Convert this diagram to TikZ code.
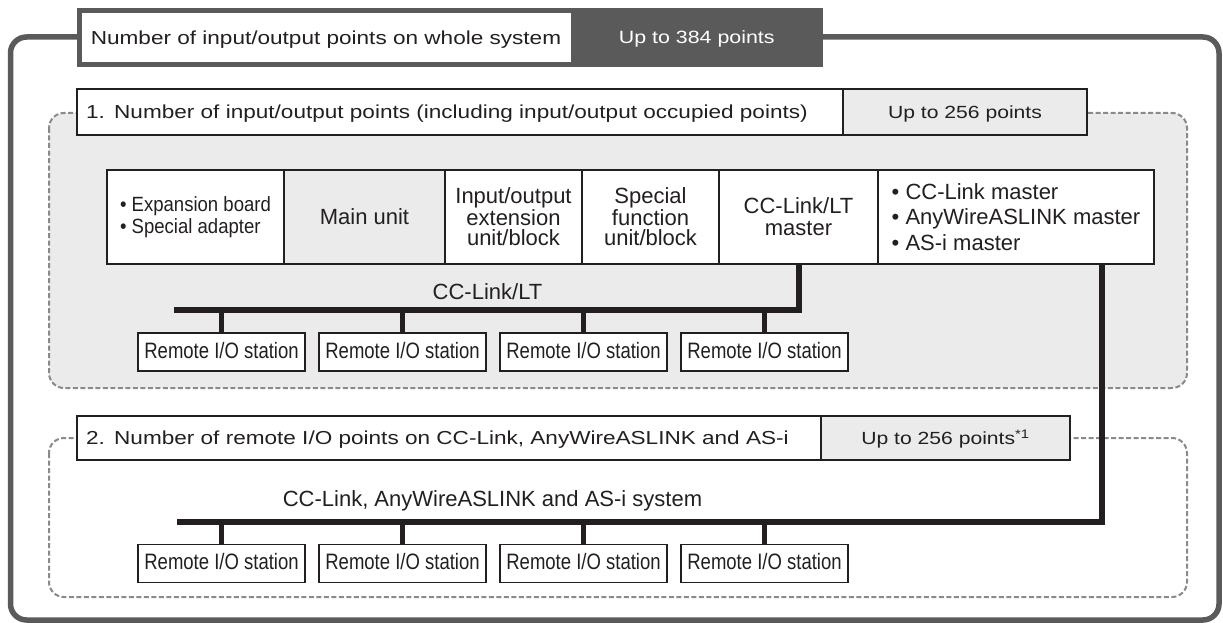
\documentclass[tikz,border=0pt]{standalone}
\usepackage{fontspec}
\setmainfont{Liberation Sans}
\newfontfamily\wideF[FakeStretch=1.2]{Liberation Sans}
\newfontfamily\expF[FakeStretch=0.9]{Liberation Sans}
\newfontfamily\remF[FakeStretch=0.83]{Liberation Sans}
\definecolor{dk}{HTML}{5A5A5A}
\definecolor{lg}{HTML}{EBEBEB}
\definecolor{dg}{HTML}{8A8A8A}
\definecolor{ink}{HTML}{231F20}
\begin{document}
\begin{tikzpicture}[x=1pt,y=-1pt,
  outerline/.style={draw=dk, line width=5.5pt, rounded corners=16pt},
  dashbox/.style={draw=dg, line width=2pt, dash pattern=on 5pt off 2.5pt, rounded corners=15pt},
  hdrbox/.style={draw=dk, line width=5pt, minimum height=54pt, inner sep=0pt},
  lblbox/.style={draw=ink, line width=1.5pt, inner ysep=0pt, text=ink,
     font=\wideF\fontsize{18.8}{22}\selectfont, text height=13.4pt, text depth=0pt},
  upbox/.style={lblbox, fill=lg, inner xsep=0pt, font=\wideF\fontsize{17.6}{20}\selectfont, text height=12.6pt},
  cell/.style={draw=ink, fill=white, line width=1.8pt, minimum height=94pt, inner sep=0pt,
     font=\fontsize{22}{21}\selectfont, align=center, text=ink},
  rem/.style={draw=ink, fill=white, line width=1.8pt, minimum width=167pt, minimum height=38pt,
     inner sep=0pt, font=\remF\fontsize{22.3}{24}\selectfont, text height=16pt, text depth=4pt, text=ink},
  bus/.style={draw=ink, line width=6pt},
  drop/.style={draw=ink, line width=5pt},
  buslabel/.style={font=\fontsize{22}{24}\selectfont, text=ink, anchor=base, inner sep=0pt}
]
\useasboundingbox (0,0) rectangle (1223,623);
% outer frame and dashed areas
\draw[outerline] (10.5,37) rectangle (1219,620);
\draw[dashbox, fill=lg] (49,113) rectangle (1187,388);
\draw[dashbox] (49,438) rectangle (1187,597);
% header
\node[hdrbox, fill=white, minimum width=494pt, text=ink,
      font=\wideF\fontsize{18.8}{22}\selectfont, text height=13.4pt, text depth=0pt]
      (hdrL) at (326,37.5) {Number of input/output points on whole system};
\node[hdrbox, fill=dk, minimum width=247.5pt, text=white,
      font=\wideF\fontsize{17.8}{20}\selectfont, text height=12.8pt, text depth=0pt]
      (hdrR) at (696.75,37.5) {Up to 384 points};
% label box 1
\node[lblbox, fill=white, minimum height=46pt, inner xsep=9pt, text width=748pt, align=left]
      (l1L) at (460,112) {1. Number of input/output points (including input/output occupied points)};
\node[upbox, minimum height=46pt, minimum width=244pt] (l1R) at (965,112) {Up to 256 points};
% label box 2
\node[lblbox, fill=white, minimum height=44pt, inner xsep=9pt, text width=726pt, align=left]
      (l2L) at (449,438) {2. Number of remote I/O points on CC-Link, AnyWireASLINK and AS-i};
\node[upbox, minimum height=44pt, minimum width=249pt] (l2R) at (945.5,438) {Up to 256 points\textsuperscript{*1}};
% unit row
\node[cell, minimum width=177pt, align=left, font=\expF\fontsize{20.6}{22.5}\selectfont]
      (ex) at (195.5,217) {• Expansion board\\• Special adapter};
\node[cell, minimum width=161pt, fill=lg] (mu) at (364.5,217) {Main unit};
\node[cell, minimum width=137pt, font=\fontsize{22}{20.5}\selectfont] (io) at (513.5,217) {Input/output\\extension\\unit/block};
\node[cell, minimum width=137pt, font=\fontsize{22}{20.5}\selectfont] (sf) at (650.5,217) {Special\\function\\unit/block};
\node[cell, minimum width=159pt, font=\fontsize{22}{22}\selectfont] (ccm) at (798.5,217) {CC-Link/LT\\master};
\node[cell, minimum width=276pt, align=left, font=\fontsize{22}{25.5}\selectfont]
      (cam) at (1016,217) {• CC-Link master\\• AnyWireASLINK master\\• AS-i master};
% CC-Link/LT bus
\coordinate (b1L) at (174,310);
\draw[bus] (ccm.south) -- (ccm.south |- b1L) -- (b1L);
\node[buslabel] (lt) at (487.5,299.5) {CC-Link/LT};
% CC-Link / AnyWire / AS-i bus
\coordinate (b2L) at (177,522);
\draw[bus] ([xshift=86pt]cam.south) -- ([xshift=86pt]cam.south |- b2L) -- (b2L);
\node[buslabel] (sys) at (492.5,506) {CC-Link, AnyWireASLINK and AS-i system};
% remote stations
\foreach \n/\x in {a/221.5,b/402.5,c/583.5,d/764.5}{
  \node[rem] (r1\n) at (\x,352) {Remote I/O station};
  \draw[drop] (r1\n.north) -- (r1\n.north |- b1L);
  \node[rem] (r2\n) at (\x,563.5) {Remote I/O station};
  \draw[drop] (r2\n.north) -- (r2\n.north |- b2L);
}
\end{tikzpicture}
\end{document}
